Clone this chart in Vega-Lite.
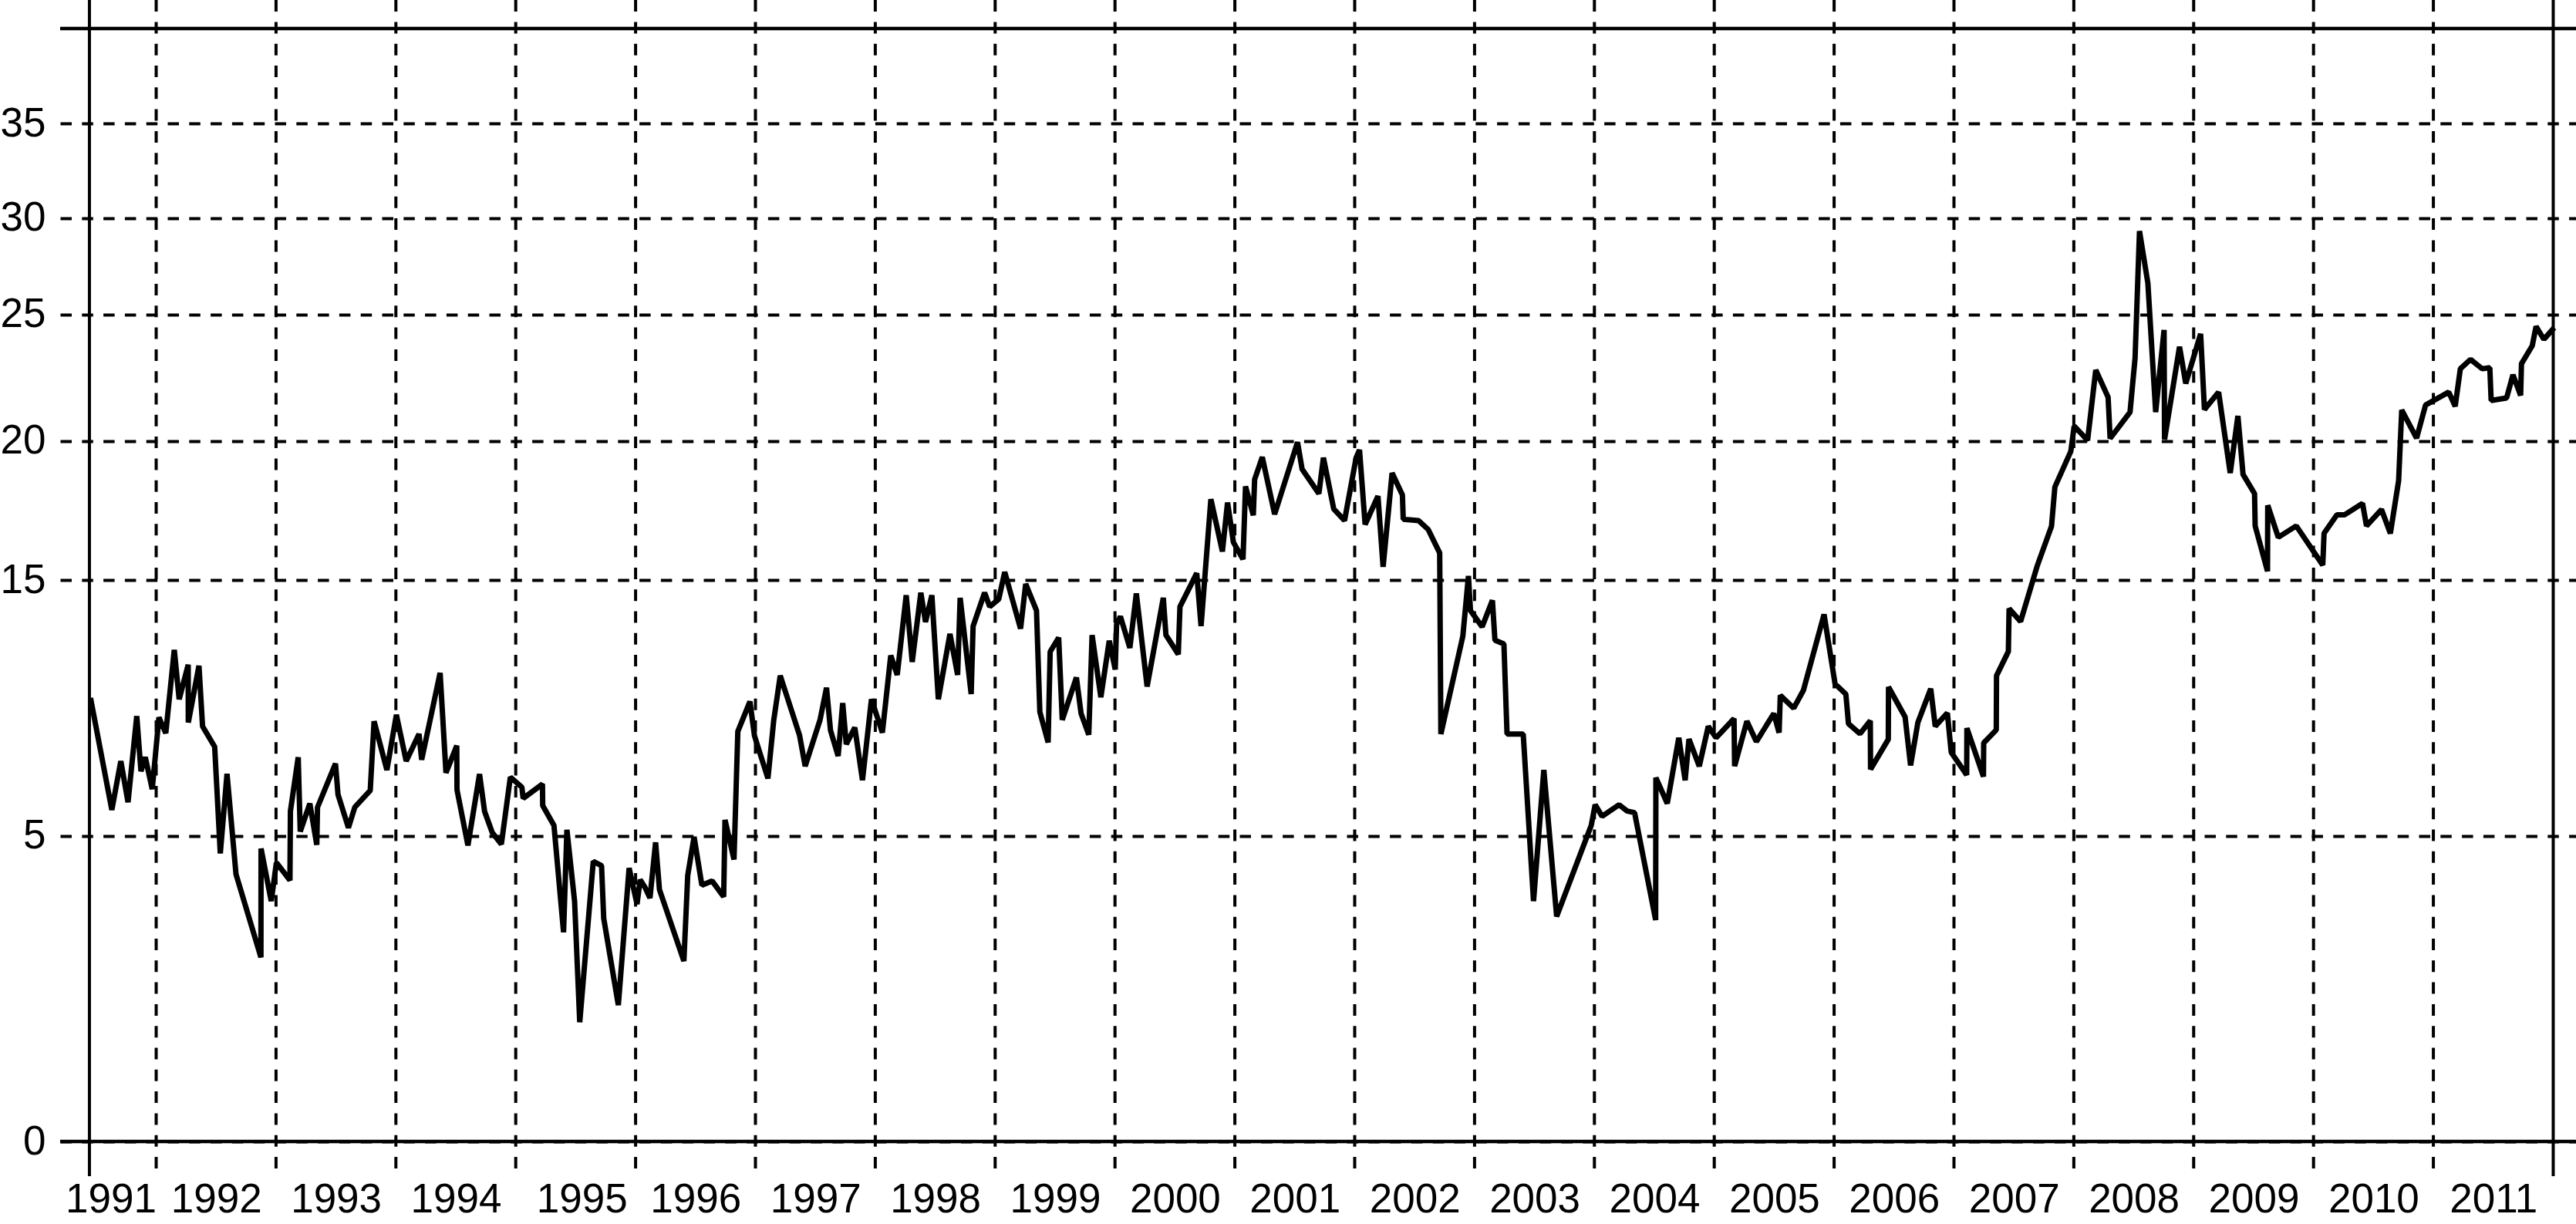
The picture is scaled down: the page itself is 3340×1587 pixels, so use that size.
{
  "$schema": "https://vega.github.io/schema/vega-lite/v6.json",
  "width": 3262,
  "height": 1525,
  "autosize": {"type": "none"},
  "padding": {"left": 78, "top": 0, "right": 0, "bottom": 62},
  "background": "white",
  "config": {
    "view": {"stroke": null},
    "axis": {"labelFont": "Liberation Sans", "labelFontSize": 53, "labelColor": "black"}
  },
  "datasets": {
    "grid": [
      {"year": 1992}, {"year": 1993}, {"year": 1994}, {"year": 1995}, {"year": 1996},
      {"year": 1997}, {"year": 1998}, {"year": 1999}, {"year": 2000}, {"year": 2001},
      {"year": 2002}, {"year": 2003}, {"year": 2004}, {"year": 2005}, {"year": 2006},
      {"year": 2007}, {"year": 2008}, {"year": 2009}, {"year": 2010}, {"year": 2011}
    ],
    "frame": [{"year": 1991.443}, {"year": 2012.0}],
    "hlines": [{"value": 0}, {"value": 40}],
    "series": [
      {"year": 1991.452, "value": 10.39}, {"year": 1991.630, "value": 6.01}, {"year": 1991.705, "value": 7.92},
      {"year": 1991.765, "value": 6.31}, {"year": 1991.838, "value": 9.68}, {"year": 1991.873, "value": 7.52},
      {"year": 1991.909, "value": 8.07}, {"year": 1991.967, "value": 6.82}, {"year": 1992.023, "value": 9.63},
      {"year": 1992.080, "value": 9.01}, {"year": 1992.151, "value": 12.27}, {"year": 1992.192, "value": 10.34},
      {"year": 1992.267, "value": 11.69}, {"year": 1992.268, "value": 9.43}, {"year": 1992.357, "value": 11.65},
      {"year": 1992.387, "value": 9.28}, {"year": 1992.488, "value": 8.48}, {"year": 1992.535, "value": 4.71},
      {"year": 1992.591, "value": 7.42}, {"year": 1992.666, "value": 4.37}, {"year": 1992.874, "value": 3.01},
      {"year": 1992.875, "value": 4.79}, {"year": 1992.960, "value": 3.93}, {"year": 1993.003, "value": 4.56},
      {"year": 1993.116, "value": 4.27}, {"year": 1993.120, "value": 5.96}, {"year": 1993.185, "value": 8.07},
      {"year": 1993.202, "value": 5.16}, {"year": 1993.282, "value": 6.26}, {"year": 1993.340, "value": 4.85},
      {"year": 1993.346, "value": 6.11}, {"year": 1993.496, "value": 7.82}, {"year": 1993.517, "value": 6.61},
      {"year": 1993.604, "value": 5.31}, {"year": 1993.657, "value": 6.11}, {"year": 1993.786, "value": 6.77},
      {"year": 1993.818, "value": 9.48}, {"year": 1993.925, "value": 7.57}, {"year": 1994.004, "value": 9.73},
      {"year": 1994.086, "value": 7.92}, {"year": 1994.193, "value": 8.98}, {"year": 1994.215, "value": 7.97},
      {"year": 1994.369, "value": 11.37}, {"year": 1994.418, "value": 7.46}, {"year": 1994.508, "value": 8.52},
      {"year": 1994.510, "value": 6.79}, {"year": 1994.601, "value": 4.84}, {"year": 1994.698, "value": 7.41},
      {"year": 1994.740, "value": 5.95}, {"year": 1994.804, "value": 5.12}, {"year": 1994.880, "value": 4.86},
      {"year": 1994.955, "value": 7.29}, {"year": 1995.051, "value": 6.90}, {"year": 1995.062, "value": 6.46},
      {"year": 1995.223, "value": 7.02}, {"year": 1995.225, "value": 6.18}, {"year": 1995.319, "value": 5.40},
      {"year": 1995.399, "value": 3.42}, {"year": 1995.427, "value": 5.23}, {"year": 1995.491, "value": 3.93},
      {"year": 1995.534, "value": 1.95}, {"year": 1995.647, "value": 4.58}, {"year": 1995.716, "value": 4.51},
      {"year": 1995.734, "value": 3.65}, {"year": 1995.856, "value": 2.23}, {"year": 1995.946, "value": 4.47},
      {"year": 1996.012, "value": 3.88}, {"year": 1996.038, "value": 4.28}, {"year": 1996.077, "value": 4.16},
      {"year": 1996.120, "value": 3.98}, {"year": 1996.167, "value": 4.89}, {"year": 1996.199, "value": 4.12},
      {"year": 1996.403, "value": 2.95}, {"year": 1996.435, "value": 4.35}, {"year": 1996.488, "value": 4.98},
      {"year": 1996.553, "value": 4.19}, {"year": 1996.638, "value": 4.26}, {"year": 1996.735, "value": 4.00},
      {"year": 1996.746, "value": 5.62}, {"year": 1996.821, "value": 4.61}, {"year": 1996.853, "value": 9.08},
      {"year": 1996.954, "value": 10.25}, {"year": 1996.992, "value": 8.91}, {"year": 1997.104, "value": 7.24},
      {"year": 1997.153, "value": 9.53}, {"year": 1997.207, "value": 11.26}, {"year": 1997.368, "value": 8.93},
      {"year": 1997.415, "value": 7.72}, {"year": 1997.539, "value": 9.53}, {"year": 1997.593, "value": 10.79},
      {"year": 1997.626, "value": 9.13}, {"year": 1997.690, "value": 8.12}, {"year": 1997.728, "value": 10.19},
      {"year": 1997.758, "value": 8.58}, {"year": 1997.829, "value": 9.23}, {"year": 1997.893, "value": 7.17},
      {"year": 1997.968, "value": 10.34}, {"year": 1998.059, "value": 9.03}, {"year": 1998.129, "value": 12.05},
      {"year": 1998.183, "value": 11.29}, {"year": 1998.258, "value": 14.41}, {"year": 1998.308, "value": 11.80},
      {"year": 1998.380, "value": 14.51}, {"year": 1998.419, "value": 13.36}, {"year": 1998.472, "value": 14.41},
      {"year": 1998.526, "value": 10.34}, {"year": 1998.623, "value": 12.90}, {"year": 1998.687, "value": 11.29},
      {"year": 1998.708, "value": 14.31}, {"year": 1998.800, "value": 10.54}, {"year": 1998.816, "value": 13.20},
      {"year": 1998.912, "value": 14.51}, {"year": 1998.955, "value": 13.96}, {"year": 1999.030, "value": 14.26},
      {"year": 1999.080, "value": 15.29}, {"year": 1999.212, "value": 13.10}, {"year": 1999.255, "value": 14.85},
      {"year": 1999.345, "value": 13.81}, {"year": 1999.373, "value": 9.84}, {"year": 1999.442, "value": 8.65},
      {"year": 1999.459, "value": 12.20}, {"year": 1999.530, "value": 12.75}, {"year": 1999.560, "value": 9.53},
      {"year": 1999.678, "value": 11.19}, {"year": 1999.717, "value": 9.78}, {"year": 1999.781, "value": 8.95},
      {"year": 1999.809, "value": 12.85}, {"year": 1999.882, "value": 10.42}, {"year": 1999.952, "value": 12.63},
      {"year": 2000.002, "value": 11.50}, {"year": 2000.013, "value": 13.26}, {"year": 2000.045, "value": 13.58},
      {"year": 2000.124, "value": 12.35}, {"year": 2000.178, "value": 14.48}, {"year": 2000.268, "value": 10.84},
      {"year": 2000.403, "value": 14.31}, {"year": 2000.425, "value": 12.85}, {"year": 2000.528, "value": 12.10},
      {"year": 2000.542, "value": 13.96}, {"year": 2000.682, "value": 15.25}, {"year": 2000.718, "value": 13.20},
      {"year": 2000.800, "value": 17.91}, {"year": 2000.896, "value": 16.03}, {"year": 2000.939, "value": 17.79},
      {"year": 2000.988, "value": 16.36}, {"year": 2001.068, "value": 15.75}, {"year": 2001.089, "value": 18.37},
      {"year": 2001.154, "value": 17.33}, {"year": 2001.165, "value": 18.62}, {"year": 2001.229, "value": 19.42},
      {"year": 2001.332, "value": 17.37}, {"year": 2001.523, "value": 19.96}, {"year": 2001.561, "value": 18.99},
      {"year": 2001.701, "value": 18.11}, {"year": 2001.739, "value": 19.40}, {"year": 2001.825, "value": 17.56},
      {"year": 2001.915, "value": 17.14}, {"year": 2002.012, "value": 19.40}, {"year": 2002.040, "value": 19.68},
      {"year": 2002.087, "value": 17.00}, {"year": 2002.194, "value": 18.02}, {"year": 2002.237, "value": 15.48},
      {"year": 2002.312, "value": 18.85}, {"year": 2002.398, "value": 18.06}, {"year": 2002.405, "value": 17.19},
      {"year": 2002.533, "value": 17.14}, {"year": 2002.613, "value": 16.82}, {"year": 2002.709, "value": 15.98},
      {"year": 2002.719, "value": 8.98}, {"year": 2002.902, "value": 12.80}, {"year": 2002.949, "value": 15.15},
      {"year": 2002.966, "value": 13.81}, {"year": 2003.063, "value": 13.17}, {"year": 2003.149, "value": 14.21},
      {"year": 2003.170, "value": 12.65}, {"year": 2003.245, "value": 12.50}, {"year": 2003.271, "value": 8.98},
      {"year": 2003.406, "value": 8.98}, {"year": 2003.492, "value": 3.93}, {"year": 2003.578, "value": 7.57},
      {"year": 2003.685, "value": 3.68}, {"year": 2003.974, "value": 5.41}, {"year": 2004.006, "value": 6.21},
      {"year": 2004.064, "value": 5.76}, {"year": 2004.206, "value": 6.21}, {"year": 2004.275, "value": 5.96},
      {"year": 2004.335, "value": 5.90}, {"year": 2004.511, "value": 3.62}, {"year": 2004.513, "value": 7.27},
      {"year": 2004.608, "value": 6.26}, {"year": 2004.704, "value": 8.83}, {"year": 2004.757, "value": 7.17},
      {"year": 2004.789, "value": 8.78}, {"year": 2004.875, "value": 7.72}, {"year": 2004.950, "value": 9.28},
      {"year": 2005.015, "value": 8.83}, {"year": 2005.165, "value": 9.58}, {"year": 2005.170, "value": 7.72},
      {"year": 2005.272, "value": 9.48}, {"year": 2005.351, "value": 8.68}, {"year": 2005.497, "value": 9.78},
      {"year": 2005.541, "value": 9.03}, {"year": 2005.551, "value": 10.49}, {"year": 2005.663, "value": 9.99},
      {"year": 2005.744, "value": 10.69}, {"year": 2005.916, "value": 13.66}, {"year": 2006.008, "value": 10.94},
      {"year": 2006.098, "value": 10.54}, {"year": 2006.120, "value": 9.38}, {"year": 2006.216, "value": 8.99},
      {"year": 2006.302, "value": 9.50}, {"year": 2006.304, "value": 7.60}, {"year": 2006.452, "value": 8.77},
      {"year": 2006.454, "value": 10.82}, {"year": 2006.592, "value": 9.65}, {"year": 2006.638, "value": 7.75},
      {"year": 2006.699, "value": 9.43}, {"year": 2006.806, "value": 10.75}, {"year": 2006.844, "value": 9.28},
      {"year": 2006.945, "value": 9.80}, {"year": 2006.977, "value": 8.26}, {"year": 2007.106, "value": 7.38},
      {"year": 2007.108, "value": 9.21}, {"year": 2007.246, "value": 7.31}, {"year": 2007.248, "value": 8.63},
      {"year": 2007.353, "value": 9.14}, {"year": 2007.355, "value": 11.26}, {"year": 2007.454, "value": 12.21},
      {"year": 2007.460, "value": 13.89}, {"year": 2007.556, "value": 13.38}, {"year": 2007.696, "value": 15.53},
      {"year": 2007.814, "value": 16.94}, {"year": 2007.842, "value": 18.35}, {"year": 2007.975, "value": 19.63},
      {"year": 2008.003, "value": 20.59}, {"year": 2008.115, "value": 20.03}, {"year": 2008.183, "value": 22.80},
      {"year": 2008.286, "value": 21.73}, {"year": 2008.303, "value": 20.10}, {"year": 2008.469, "value": 21.14},
      {"year": 2008.511, "value": 23.27}, {"year": 2008.548, "value": 29.32}, {"year": 2008.618, "value": 26.61},
      {"year": 2008.683, "value": 21.14}, {"year": 2008.753, "value": 24.38}, {"year": 2008.757, "value": 20.06},
      {"year": 2008.882, "value": 23.72}, {"year": 2008.934, "value": 22.27}, {"year": 2009.058, "value": 24.23},
      {"year": 2009.090, "value": 21.24}, {"year": 2009.208, "value": 21.93}, {"year": 2009.305, "value": 18.85},
      {"year": 2009.369, "value": 20.99}, {"year": 2009.412, "value": 18.80}, {"year": 2009.508, "value": 18.11},
      {"year": 2009.513, "value": 16.95}, {"year": 2009.616, "value": 15.32}, {"year": 2009.618, "value": 17.69},
      {"year": 2009.706, "value": 16.54}, {"year": 2009.856, "value": 16.95}, {"year": 2010.077, "value": 15.54},
      {"year": 2010.088, "value": 16.68}, {"year": 2010.195, "value": 17.35}, {"year": 2010.260, "value": 17.35},
      {"year": 2010.409, "value": 17.76}, {"year": 2010.442, "value": 16.95}, {"year": 2010.567, "value": 17.54},
      {"year": 2010.641, "value": 16.68}, {"year": 2010.710, "value": 18.57}, {"year": 2010.736, "value": 21.22},
      {"year": 2010.860, "value": 20.11}, {"year": 2010.935, "value": 21.42}, {"year": 2011.128, "value": 21.93},
      {"year": 2011.182, "value": 21.37}, {"year": 2011.225, "value": 22.85}, {"year": 2011.310, "value": 23.22},
      {"year": 2011.407, "value": 22.85}, {"year": 2011.471, "value": 22.89}, {"year": 2011.482, "value": 21.60},
      {"year": 2011.611, "value": 21.70}, {"year": 2011.664, "value": 22.61}, {"year": 2011.728, "value": 21.80},
      {"year": 2011.735, "value": 23.05}, {"year": 2011.825, "value": 23.76}, {"year": 2011.857, "value": 24.52},
      {"year": 2011.922, "value": 24.01}, {"year": 2012.008, "value": 24.47}
    ]
  },
  "layer": [
    {
      "data": {"name": "grid"},
      "mark": {"type": "rule", "color": "black", "strokeWidth": 4, "strokeDash": [15, 13.3]},
      "encoding": {
        "x": {"field": "year", "type": "quantitative",
              "scale": {"domain": [1991.1988, 2012.19], "nice": false, "zero": false},
              "axis": {"title": null, "domain": false, "ticks": false, "grid": false,
                       "values": [1991.62, 1992.5, 1993.5, 1994.5, 1995.55, 1996.5, 1997.5, 1998.5, 1999.5, 2000.5, 2001.5, 2002.5, 2003.5, 2004.5, 2005.5, 2006.5, 2007.5, 2008.5, 2009.5, 2010.5, 2011.5],
                       "labelExpr": "format(floor(datum.value), 'd')",
                       "labelPadding": 4, "labelFlush": false, "labelOverlap": false}},
        "y": {"datum": 41.5, "type": "quantitative",
              "scale": {"domain": [0, 5, 15, 20, 25, 30, 35, 40], "range": [1480, 1083.5, 752.2, 571.8, 407.5, 282.5, 160, 37], "nice": false, "zero": false},
              "axis": {"title": null, "domain": false, "ticks": false,
                       "values": [0, 5, 15, 20, 25, 30, 35],
                       "labelPadding": 19,
                       "grid": true, "gridColor": "black", "gridOpacity": 1, "gridWidth": 4, "gridDash": [14.5, 13.3]}},
        "y2": {"datum": -0.44}
      }
    },
    {
      "data": {"name": "frame"},
      "mark": {"type": "rule", "color": "black", "strokeWidth": 4},
      "encoding": {
        "x": {"field": "year", "type": "quantitative",
              "scale": {"domain": [1991.1988, 2012.19], "nice": false, "zero": false},
              "axis": {"title": null, "domain": false, "ticks": false, "grid": false,
                       "values": [1991.62, 1992.5, 1993.5, 1994.5, 1995.55, 1996.5, 1997.5, 1998.5, 1999.5, 2000.5, 2001.5, 2002.5, 2003.5, 2004.5, 2005.5, 2006.5, 2007.5, 2008.5, 2009.5, 2010.5, 2011.5],
                       "labelExpr": "format(floor(datum.value), 'd')",
                       "labelPadding": 4, "labelFlush": false, "labelOverlap": false}}
      }
    },
    {
      "data": {"name": "hlines"},
      "mark": {"type": "rule", "color": "black", "strokeWidth": 4.5},
      "encoding": {
        "y": {"field": "value", "type": "quantitative",
              "scale": {"domain": [0, 5, 15, 20, 25, 30, 35, 40], "range": [1480, 1083.5, 752.2, 571.8, 407.5, 282.5, 160, 37], "nice": false, "zero": false},
              "axis": {"title": null, "domain": false, "ticks": false,
                       "values": [0, 5, 15, 20, 25, 30, 35],
                       "labelPadding": 19,
                       "grid": true, "gridColor": "black", "gridOpacity": 1, "gridWidth": 4, "gridDash": [14.5, 13.3]}}
      }
    },
    {
      "data": {"name": "series"},
      "mark": {"type": "line", "color": "black", "strokeWidth": 7, "strokeJoin": "bevel"},
      "encoding": {
        "x": {"field": "year", "type": "quantitative",
              "scale": {"domain": [1991.1988, 2012.19], "nice": false, "zero": false},
              "axis": {"title": null, "domain": false, "ticks": false, "grid": false,
                       "values": [1991.62, 1992.5, 1993.5, 1994.5, 1995.55, 1996.5, 1997.5, 1998.5, 1999.5, 2000.5, 2001.5, 2002.5, 2003.5, 2004.5, 2005.5, 2006.5, 2007.5, 2008.5, 2009.5, 2010.5, 2011.5],
                       "labelExpr": "format(floor(datum.value), 'd')",
                       "labelPadding": 4, "labelFlush": false, "labelOverlap": false}},
        "y": {"field": "value", "type": "quantitative",
              "scale": {"domain": [0, 5, 15, 20, 25, 30, 35, 40], "range": [1480, 1083.5, 752.2, 571.8, 407.5, 282.5, 160, 37], "nice": false, "zero": false},
              "axis": {"title": null, "domain": false, "ticks": false,
                       "values": [0, 5, 15, 20, 25, 30, 35],
                       "labelPadding": 19,
                       "grid": true, "gridColor": "black", "gridOpacity": 1, "gridWidth": 4, "gridDash": [14.5, 13.3]}}
      }
    }
  ]
}
